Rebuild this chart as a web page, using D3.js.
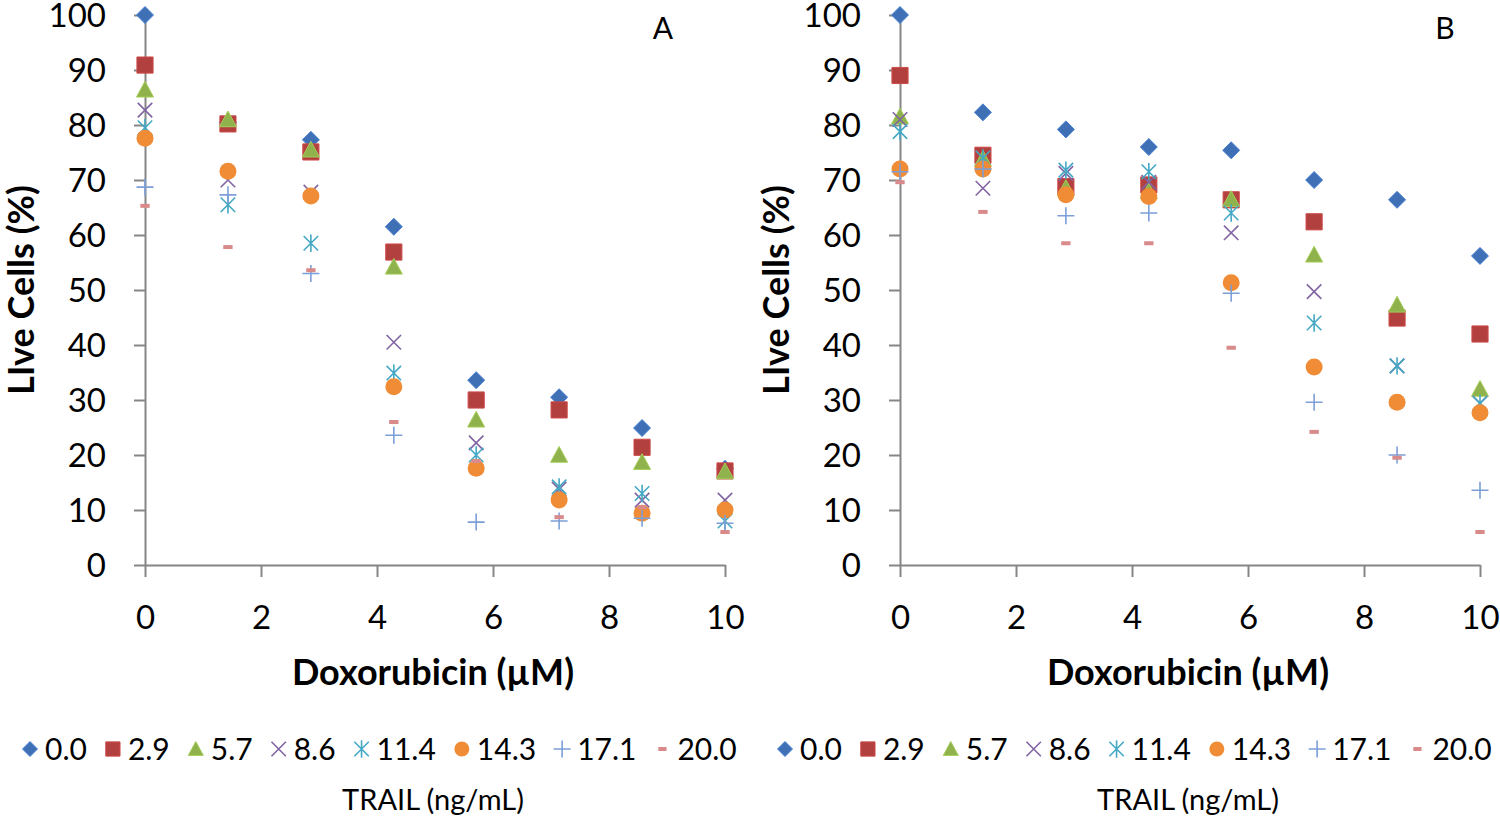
<!DOCTYPE html>
<html>
<head>
<meta charset="utf-8">
<script src="https://cdn.jsdelivr.net/npm/d3@7"></script>
<style>
  body { margin: 0; background: #fff; }
  svg text { fill: #000; }
  .tick text { font-family: Lato, "Open Sans", sans-serif; font-size: 33px; }
  .axis-title { font-family: Lato, "Open Sans", sans-serif; font-size: 36px; font-weight: bold; }
  .legend text { font-family: Lato, "Open Sans", sans-serif; font-size: 30px; }
</style>
</head>
<body>
<div id="chart"></div>
<script>
// doxorubicin doses (uM) and TRAIL series (ng/mL)
var dox = [0, 1.43, 2.86, 4.29, 5.71, 7.14, 8.57, 10];
var trail = ["0.0", "2.9", "5.7", "8.6", "11.4", "14.3", "17.1", "20.0"];
var xTicks = [0, 2, 4, 6, 8, 10];
var yTicks = [0, 10, 20, 30, 40, 50, 60, 70, 80, 90, 100];

// panel A, live cells (%), one row per TRAIL dose
var liveA = [
  [100, 80.5, 77.3, 61.5, 33.6, 30.5, 24.9, 17.5],
  [90.9, 80.2, 75.1, 56.9, 30.0, 28.2, 21.4, 17.1],
  [86.4, 81.0, 75.5, 54.2, 26.4, 20.0, 18.7, 17.0],
  [82.7, 70.0, 67.8, 40.5, 22.2, 13.8, 11.8, 11.8],
  [79.5, 65.5, 58.5, 34.9, 20.0, 14.2, 13.0, 8.0],
  [77.6, 71.6, 67.1, 32.4, 17.6, 11.8, 9.4, 10.0],
  [68.7, 67.3, 53.0, 23.6, 7.8, 8.0, 8.5, 7.6],
  [65.3, 57.8, 53.6, 26.0, 18.9, 8.7, 10.5, 6.0]
];

// panel B
var liveB = [
  [100, 82.3, 79.2, 76.0, 75.4, 70.0, 66.4, 56.2],
  [89.0, 74.5, 68.8, 69.1, 66.4, 62.4, 44.9, 42.0],
  [81.5, 73.8, 68.5, 67.9, 66.5, 56.4, 47.3, 32.0],
  [81.0, 68.5, 71.2, 69.6, 60.4, 49.7, 36.2, 29.4],
  [78.8, 74.0, 71.8, 71.5, 64.0, 44.0, 36.2, 29.4],
  [72.0, 72.0, 67.3, 67.0, 51.3, 36.0, 29.6, 27.7],
  [71.5, 72.0, 63.5, 64.0, 49.4, 29.6, 20.0, 13.6],
  [69.6, 64.2, 58.5, 58.5, 39.5, 24.2, 19.5, 6.0]
];

var colors = ["#3f70b6", "#b2403f", "#8fb24c", "#8064a2", "#44a8c4", "#f08c35", "#7c9fd8", "#d98a8a"];
var shapes = ["diamond", "square", "triangle", "x", "asterisk", "circle", "plus", "dash"];

var W = 1500, H = 818;
var svg = d3.select("#chart").append("svg")
    .attr("width", W).attr("height", H);

// marker path, s = half size
function markerPath(type, s) {
  switch (type) {
    case "diamond": return "M0," + (-s) + "L" + s + ",0L0," + s + "L" + (-s) + ",0Z";
    case "square": return "M" + (-s) + "," + (-s) + "H" + s + "V" + s + "H" + (-s) + "Z";
    case "triangle": return "M0," + (-s) + "L" + s + "," + (s * 0.85) + "L" + (-s) + "," + (s * 0.85) + "Z";
    case "x": return "M" + (-s) + "," + (-s) + "L" + s + "," + s + "M" + (-s) + "," + s + "L" + s + "," + (-s);
    case "asterisk": return "M" + (-s) + "," + (-s) + "L" + s + "," + s + "M" + (-s) + "," + s + "L" + s + "," + (-s) + "M0," + (-s * 1.2) + "V" + (s * 1.2);
    case "plus": return "M" + (-s) + ",0H" + s + "M0," + (-s) + "V" + s;
    case "dash": return "M" + (-s) + ",-2H" + s + "V2H" + (-s) + "Z";
  }
}

function drawMarker(sel, i, size) {
  var type = shapes[i], c = colors[i];
  if (type == "circle") {
    sel.append("circle").attr("r", size).attr("fill", c);
  } else if (type == "x" || type == "asterisk" || type == "plus") {
    sel.append("path").attr("d", markerPath(type, type == "plus" ? size : size * 0.85))
      .attr("fill", "none").attr("stroke", c).attr("stroke-width", 1.6);
  } else if (type == "dash") {
    sel.append("path").attr("d", markerPath(type, size * 0.55)).attr("fill", c);
  } else {
    var s = type == "square" ? size * 0.95 : size;
    sel.append("path").attr("d", markerPath(type, s)).attr("fill", c)
      .attr("stroke", d3.color(c).brighter(0.4)).attr("stroke-width", 1);
  }
}

function drawPanel(offset, data, letter, letterX) {
  var x = d3.scaleLinear().domain([0, 10]).range([145 + offset, 725 + offset]);
  var y = d3.scaleLinear().domain([0, 100]).range([565, 15]);

  var g = svg.append("g");

  var gx = g.append("g")
      .attr("transform", "translate(0,565)")
      .call(d3.axisBottom(x).tickValues(xTicks).tickSize(12).tickPadding(21).tickSizeOuter(0));
  var gy = g.append("g")
      .attr("transform", "translate(" + (145 + offset) + ",0)")
      .call(d3.axisLeft(y).tickValues(yTicks).tickSize(11).tickPadding(28).tickSizeOuter(0));
  g.selectAll(".domain, .tick line").attr("stroke", "#868686").attr("stroke-width", 2);
  gx.selectAll(".tick text").attr("dy", "0.95em");
  gy.selectAll(".tick text").attr("dy", "0.36em");

  g.append("text").attr("class", "axis-title")
      .attr("x", 433 + offset).attr("y", 685)
      .attr("text-anchor", "middle")
      .text("Doxorubicin (\u00b5M)");
  g.append("text").attr("class", "axis-title")
      .attr("transform", "translate(" + (34 + offset) + ",290) rotate(-90)")
      .attr("text-anchor", "middle")
      .text("LIve Cells (%)");
  g.append("text")
      .attr("x", letterX).attr("y", 39)
      .attr("text-anchor", "middle")
      .style("font-family", "Lato, sans-serif").style("font-size", "30px")
      .text(letter);

  // series, drawn in order so later ones sit on top
  data.forEach(function(row, i) {
    g.append("g").selectAll("g")
      .data(row)
      .enter().append("g")
        .attr("transform", function(d, j) { return "translate(" + x(dox[j]) + "," + y(d) + ")"; })
        .each(function() { drawMarker(d3.select(this), i, 8.5); });
  });

  // legend
  var lg = g.append("g").attr("class", "legend");
  var cx = 30 + offset;
  trail.forEach(function(t, i) {
    var item = lg.append("g").attr("transform", "translate(" + cx + ",749)");
    drawMarker(item, i, shapes[i] == "plus" || shapes[i] == "x" || shapes[i] == "asterisk" ? 8.5 : 7.5);
    var tx = item.append("text").attr("x", 15).attr("dy", "0.36em").text(t);
    cx += 15 + tx.node().getComputedTextLength() + 26;
  });
  g.append("text")
      .attr("x", 433 + offset).attr("y", 810)
      .attr("text-anchor", "middle")
      .style("font-family", "Lato, sans-serif").style("font-size", "29px")
      .text("TRAIL (ng/mL)");
}

drawPanel(0, liveA, "A", 663);
drawPanel(755, liveB, "B", 1445);
</script>
</body>
</html>
